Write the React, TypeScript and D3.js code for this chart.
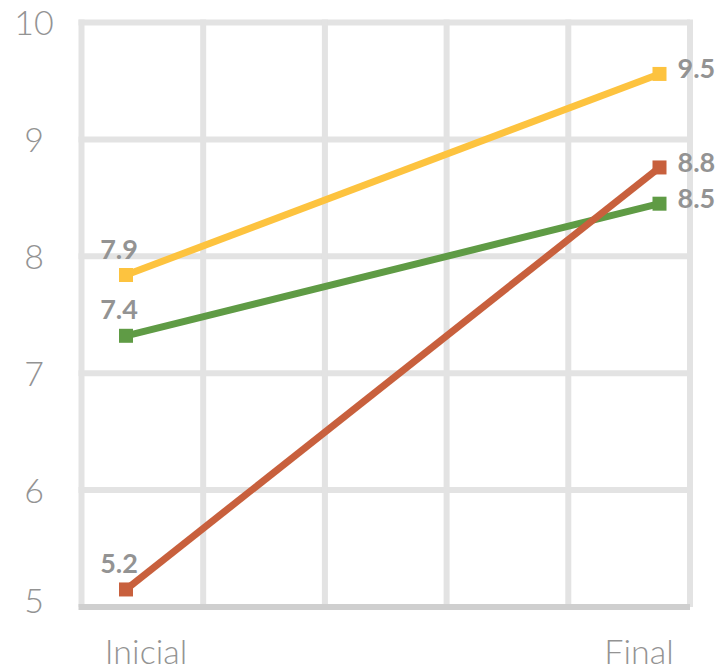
import * as d3 from 'd3';
import React from 'react';

const categories = ['Inicial', 'Final'];
const yTicks = [5, 6, 7, 8, 9, 10];

// series values and their printed labels
const yellowValues = [7.84, 9.56];
const greenValues = [7.32, 8.45];
const redValues = [5.15, 8.76];
const yellowLabels = ['7.9', '9.5'];
const greenLabels = ['7.4', '8.5'];
const redLabels = ['5.2', '8.8'];

const series = [
  { name: 'yellow', values: yellowValues, labels: yellowLabels, color: '#fdc33f' },
  { name: 'green', values: greenValues, labels: greenLabels, color: '#5f9b45' },
  { name: 'red', values: redValues, labels: redLabels, color: '#c8603d' },
];

const width = 723;
const height = 672;
const font = 'Lato, "Open Sans", sans-serif';
const textColor = '#939393';

export default function App() {
  const plot = { left: 81.5, right: 690, top: 22.5, bottom: 607 };

  const y = d3.scaleLinear().domain([5, 10]).range([plot.bottom, plot.top]);
  const xGrid = d3.scaleLinear().domain([0, 5]).range([plot.left, plot.right]);
  const x = d3.scalePoint<string>().domain(categories).range([126, 659.5]);
  const xLabel = d3.scalePoint<string>().domain(categories).range([146, 639]);

  const line = d3.line<number>()
    .x((_, i) => x(categories[i])!)
    .y(d => y(d));

  return (
    <svg width={width} height={height}
      style={{ position: 'fixed', left: 0, top: 0, display: 'block', background: '#fff' }}>
      {/* grid */}
      {yTicks.slice(1).map(t => (
        <line key={'h' + t} x1={plot.left - 3} x2={plot.right} y1={y(t)} y2={y(t)}
          stroke="#e3e3e3" strokeWidth={6} />
      ))}
      {d3.range(0, 6).map(i => (
        <line key={'v' + i} x1={xGrid(i)} x2={xGrid(i)} y1={plot.top - 3} y2={plot.bottom}
          stroke="#e3e3e3" strokeWidth={6} />
      ))}
      <line x1={plot.left - 3} x2={plot.right} y1={y(5)} y2={y(5)} stroke="#cfcfcf" strokeWidth={6} />

      {/* y tick labels */}
      {yTicks.map(t => (
        <text key={'yt' + t} x={34} y={t === 5 ? y(t) - 8 : y(t) - 1} textAnchor="middle"
          dominantBaseline="central" fontFamily={font} fontWeight={300} fontSize={34} fill={textColor}>
          {t}
        </text>
      ))}

      {/* x labels */}
      {categories.map(c => (
        <text key={c} x={xLabel(c)} y={664} textAnchor="middle" fontFamily={font}
          fontWeight={300} fontSize={34} fill={textColor}>
          {c}
        </text>
      ))}

      {/* series */}
      {series.map(s => (
        <g key={s.name}>
          <path d={line(s.values)!} fill="none" stroke={s.color} strokeWidth={7} />
          {s.values.map((v, i) => (
            <rect key={i} x={x(categories[i])! - 7} y={y(v) - 7} width={14} height={14} fill={s.color} />
          ))}
        </g>
      ))}

      {/* data labels */}
      {series.map(s => (
        <g key={s.name + 'l'}>
          <text x={x(categories[0])! - 7} y={y(s.values[0]) - 27} textAnchor="middle"
            dominantBaseline="central" fontFamily={font} fontWeight={700} fontSize={27} fill={textColor}>
            {s.labels[0]}
          </text>
          <text x={x(categories[1])! + 18} y={y(s.values[1]) - 6} textAnchor="start"
            dominantBaseline="central" fontFamily={font} fontWeight={700} fontSize={27} fill={textColor}>
            {s.labels[1]}
          </text>
        </g>
      ))}
    </svg>
  );
}
